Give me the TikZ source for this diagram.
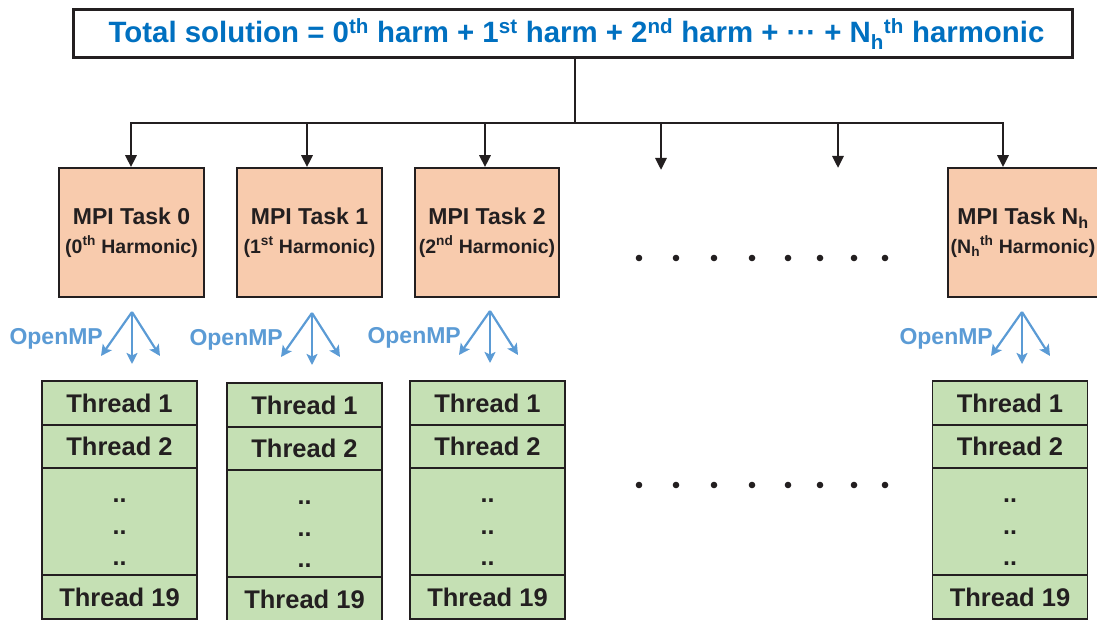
\documentclass[tikz,border=0pt]{standalone}
\usepackage{fontspec}
\setmainfont{Liberation Sans}
\usetikzlibrary{arrows.meta,positioning}

\definecolor{taskfill}{HTML}{F8CBAD}
\definecolor{threadfill}{HTML}{C5E0B4}
\definecolor{titleblue}{HTML}{0070C0}
\definecolor{ompblue}{HTML}{5B9BD5}
\definecolor{inkdark}{HTML}{231F20}

\newcommand{\Nh}{N\textsubscript{h}}
\newcommand{\midots}{\textperiodcentered\textperiodcentered\textperiodcentered}

\tikzset{
  topbox/.style={draw=inkdark, line width=3pt, fill=white, inner sep=0pt,
    minimum width=999pt, minimum height=48pt, text=titleblue,
    font=\fontsize{29.4}{34}\selectfont\bfseries},
  taskbox/.style={draw=inkdark, line width=1.6pt, fill=taskfill, inner sep=0pt,
    minimum height=129pt, align=center, text=inkdark,
    font=\fontsize{19.5}{29}\selectfont\bfseries},
  threadrow/.style={draw=inkdark, line width=1.6pt, fill=threadfill, inner sep=0pt,
    outer sep=0pt, minimum width=155pt, text=inkdark,
    font=\fontsize{25.5}{30}\selectfont\bfseries},
  gapdots/.style={inner sep=0pt, align=center, text=inkdark,
    font=\fontsize{25}{31.5}\selectfont\bfseries},
  omplabel/.style={text=ompblue, inner sep=0pt, font=\fontsize{23}{27}\selectfont\bfseries},
  bus/.style={draw=inkdark, line width=2.8pt},
  busarrow/.style={bus, -{Triangle[length=12pt,width=11pt]}},
  omparrow/.style={draw=ompblue, line width=2.2pt, -{Stealth[length=11pt,width=11pt,inset=2.5pt]}}
}

\newcommand{\tasktext}[2]{{\fontsize{23}{29}\selectfont #1}\\#2}

\begin{document}
\begin{tikzpicture}[x=1pt,y=-1pt]
  \useasboundingbox (0,0) rectangle (1097,620);

  % total solution
  \node[topbox] (total) at (572.5,34) {\hspace*{8pt}Total solution = 0\textsuperscript{th} harm + 1\textsuperscript{st} harm + 2\textsuperscript{nd} harm + \midots{} + \Nh\textsuperscript{th} harmonic};

  % MPI tasks
  \node[taskbox, minimum width=145pt] (task0) at (131.5,232.5) {\tasktext{MPI Task 0}{(0\textsuperscript{th} Harmonic)}};
  \node[taskbox, minimum width=145pt] (task1) at (309.5,232.5) {\tasktext{MPI Task 1}{(1\textsuperscript{st} Harmonic)}};
  \node[taskbox, minimum width=144pt] (task2) at (487,232.5) {\tasktext{MPI Task 2}{(2\textsuperscript{nd} Harmonic)}};
  \node[taskbox, minimum width=150pt] (taskN) at (1023,232.5) {\tasktext{MPI Task \Nh}{(\Nh\textsuperscript{th} Harmonic)}};

  % distribution bus
  \coordinate (trunk) at (575,123);
  \foreach \i/\x in {0/131,1/307,2/485,3/661,4/838,5/1003}
    \coordinate (bus\i) at (\x,123);
  \coordinate (tip3) at (661,170);
  \coordinate (tip4) at (838,168);
  \draw[bus] (total.south -| trunk) -- (trunk);
  \draw[bus, line cap=rect] (bus0) -- (bus5);
  \draw[busarrow] (bus0) -- (bus0 |- task0.north);
  \draw[busarrow] (bus1) -- (bus1 |- task1.north);
  \draw[busarrow] (bus2) -- (bus2 |- task2.north);
  \draw[busarrow] (bus3) -- (tip3);
  \draw[busarrow] (bus4) -- (tip4);
  \draw[busarrow] (bus5) -- (bus5 |- taskN.north);

  % thread columns
  \foreach \c/\x/\y in {0/119.5/381,1/304.5/383,2/487.5/381,N/1010/381} {
    \node[threadrow, minimum height=44pt] (th\c-1) at (\x,\y+22) {Thread 1};
    \node[threadrow, minimum height=43pt, below=0pt of th\c-1] (th\c-2) {Thread 2};
    \node[threadrow, minimum height=107pt, below=0pt of th\c-2] (th\c-gap) {};
    \node[gapdots] (th\c-dots) at ([yshift=-11pt]th\c-gap.center) {..\\..\\..};
    \node[threadrow, minimum height=44pt, below=0pt of th\c-gap] (th\c-19) {Thread 19};
  }

  % OpenMP forks
  \coordinate (omp0) at (132,312);
  \coordinate (omp1) at (312,313);
  \coordinate (omp2) at (490,311);
  \coordinate (ompN) at (1022,312);
  \foreach \c in {0,1,2,N} {
    \draw[omparrow] (omp\c) -- ++(-31,44);
    \draw[omparrow] (omp\c) -- ++(0,52);
    \draw[omparrow] (omp\c) -- ++(28,44);
    \node[omplabel, anchor=east] (ompl\c) at ([shift={(-29,27)}]omp\c) {OpenMP};
  }

  % ellipsis dots
  \foreach \x in {639,676,714,752,788,820,854,885} {
    \fill[inkdark] (\x,258) circle (3.3pt);
    \fill[inkdark] (\x,485) circle (3.3pt);
  }
\end{tikzpicture}
\end{document}
